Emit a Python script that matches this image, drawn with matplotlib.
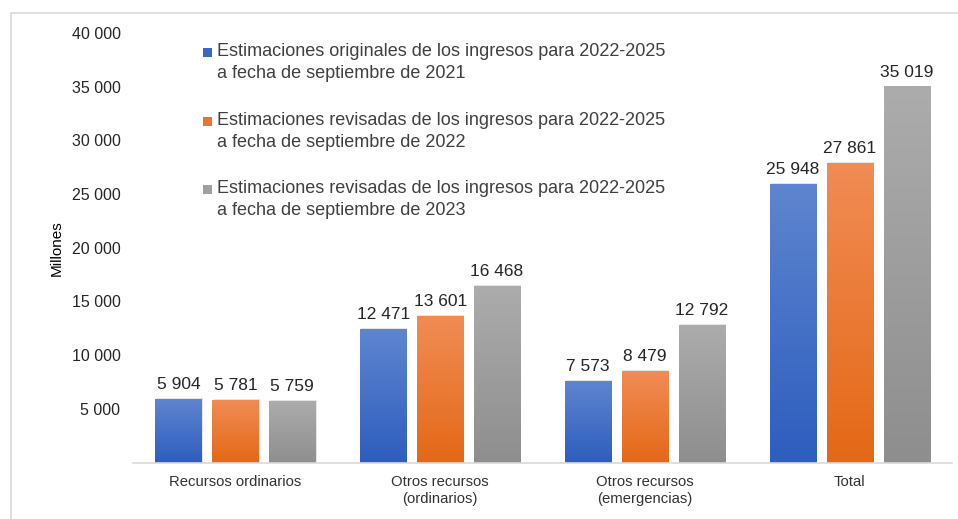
import numpy as np
import matplotlib.pyplot as plt
from matplotlib.patches import Rectangle
from matplotlib.colors import LinearSegmentedColormap

plt.rcParams['font.family'] = ['Liberation Sans', 'DejaVu Sans']

categories = ['Recursos ordinarios', 'Otros recursos\n(ordinarios)',
              'Otros recursos\n(emergencias)', 'Total']
series_labels = ['Estimaciones originales de los ingresos para 2022-2025\na fecha de septiembre de 2021',
                 'Estimaciones revisadas de los ingresos para 2022-2025\na fecha de septiembre de 2022',
                 'Estimaciones revisadas de los ingresos para 2022-2025\na fecha de septiembre de 2023']
est_2021 = [5904, 12471, 7573, 25948]
est_2022 = [5781, 13601, 8479, 27861]
est_2023 = [5759, 16468, 12792, 35019]
yticks = [5000, 10000, 15000, 20000, 25000, 30000, 35000, 40000]

series = [est_2021, est_2022, est_2023]
# (top colour, bottom colour) for the vertical gradient
grads = [('#5E85CF', '#2D5DBE'), ('#F18C55', '#E46816'), ('#ACACAC', '#8E8E8E')]
legend_cols = ['#3A68C4', '#EC7430', '#A0A0A0']

fig = plt.figure(figsize=(9.58, 5.19), dpi=100)
# light frame around the chart
fig.patches.append(Rectangle((11 / 958, -0.1), 1.2, 1.1 - 13 / 519,
                             transform=fig.transFigure, fill=False,
                             edgecolor='#D9D9D9', lw=1.2))
ax = fig.add_axes([133 / 958, 1 - 462.5 / 519, (952 - 133) / 958, (462.5 - 33) / 519])

x = np.arange(len(categories))
w = 0.225
step = 0.278
for i, vals in enumerate(series):
    bars = ax.bar(x + (i - 1) * step, vals, w, color='none', zorder=2)
    cmap = LinearSegmentedColormap.from_list('g%d' % i, [grads[i][1], grads[i][0]])
    for b, v in zip(bars, vals):
        bx, bw, bh = b.get_x(), b.get_width(), b.get_height()
        # soft shadow
        ax.add_patch(Rectangle((bx + 0.006, 0), bw, bh + 90, color='#000000',
                               alpha=0.10, lw=0, zorder=1))
        im = ax.imshow(np.linspace(0, 1, 256).reshape(-1, 1), cmap=cmap,
                       extent=[bx, bx + bw, 0, bh], origin='lower',
                       aspect='auto', zorder=2)
        im.set_clip_path(b)
        ax.text(b.get_x() + bw / 2, v + 650, f'{v:,}'.replace(',', ' '),
                ha='center', va='bottom', fontsize=12.5, color='#262626')

ax.set_xlim(-0.5, len(categories) - 0.5)
ax.set_ylim(0, 40000)
ax.set_yticks(yticks)
ax.set_yticklabels([f'{t:,}'.replace(',', ' ') for t in yticks])
ax.set_xticks(x)
ax.set_xticklabels(categories, linespacing=1.3)
ax.tick_params(axis='both', length=0, labelsize=11.5, colors='#262626')
ax.tick_params(axis='x', pad=9, labelsize=10.7, colors='#333333')
ax.tick_params(axis='y', pad=9)
for s in ['top', 'right', 'left']:
    ax.spines[s].set_visible(False)
ax.spines['bottom'].set_color('#D9D9D9')
ax.spines['bottom'].set_linewidth(1.2)
ax.set_ylabel('Millones', fontsize=11, color='#000000')
ax.yaxis.set_label_coords(-0.084, 0.5)

# legend drawn by hand: square aligned with the first line of each entry
leg_y = [52, 121, 189]
for lab, col, yy in zip(series_labels, legend_cols, leg_y):
    fig.patches.append(Rectangle((203 / 958, 1 - (yy + 5) / 519), 9 / 958, 9 / 519,
                                 transform=fig.transFigure, color=col, lw=0))
    fig.text(217 / 958, 1 - (yy - 9) / 519, lab, ha='left', va='top',
             fontsize=13, color='#404040', linespacing=1.38)

fig.savefig('out.png', dpi=100)
